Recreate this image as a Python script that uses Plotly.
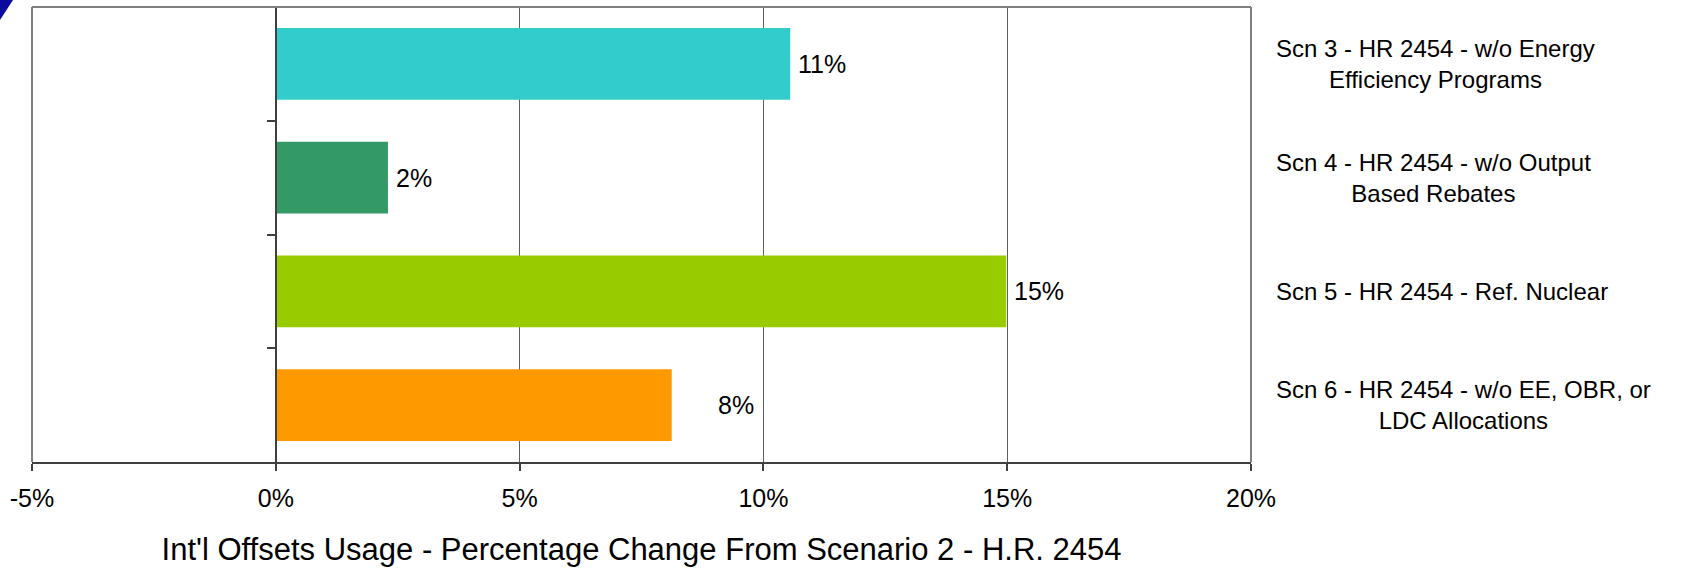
import plotly.graph_objects as go

# ---- data ----
categories = [
    "Scn 3 - HR 2454 - w/o Energy<br>Efficiency Programs",
    "Scn 4 - HR 2454 - w/o Output<br>Based Rebates",
    "Scn 5 - HR 2454 - Ref. Nuclear",
    "Scn 6 - HR 2454 - w/o EE, OBR, or<br>LDC Allocations",
]
values = [10.55, 2.30, 14.98, 8.12]
bar_colors = ["#33CCCC", "#339966", "#99CC00", "#FF9900"]
x_tickvals = [-5, 0, 5, 10, 15, 20]
x_ticktext = ["-5%", "0%", "5%", "10%", "15%", "20%"]
x_title = "Int'l Offsets Usage - Percentage Change From Scenario 2 - H.R. 2454"

# ---- layout constants ----
W, H = 1700, 570
ML, MR, MT, MB = 32, 449, 7, 108
PW, PH = W - ML - MR, H - MT - MB
FONT = "Liberation Sans, Arial, sans-serif"
label_shift = [6, 6, 6, 44]

fig = go.Figure()
fig.add_trace(go.Bar(
    y=categories, x=values, orientation="h",
    marker=dict(color=bar_colors, line=dict(width=0)),
    showlegend=False, hoverinfo="x+y",
))

annotations = []
for c, v, s in zip(categories, values, label_shift):
    annotations.append(dict(
        x=v, y=c, xref="x", yref="y", text=f"{v:.0f}%", showarrow=False,
        xanchor="left", yanchor="middle", xshift=s,
        font=dict(family=FONT, size=25, color="black"),
    ))
    annotations.append(dict(
        x=(1274 - ML) / PW, y=c, xref="paper", yref="y", text=c, showarrow=False,
        xanchor="left", yanchor="middle", align="center",
        font=dict(family=FONT, size=24, color="black"),
    ))

def px_x(p):
    return (p - ML) / PW

def px_y(p):
    return (H - MB - p) / PH

shapes = [
    # plot border (top, left, right)
    dict(type="line", xref="paper", yref="paper", x0=0, x1=1, y0=1, y1=1,
         line=dict(color="#808080", width=2)),
    dict(type="line", xref="paper", yref="paper", x0=0, x1=0, y0=0, y1=1,
         line=dict(color="#808080", width=2)),
    dict(type="line", xref="paper", yref="paper", x0=1, x1=1, y0=0, y1=1,
         line=dict(color="#808080", width=2)),
    # decorative corner triangle
    dict(type="path", xref="paper", yref="paper",
         path=f"M {px_x(0)},{px_y(0)} L {px_x(13)},{px_y(0)} L {px_x(0)},{px_y(20)} Z",
         fillcolor="#0A0A9E", line=dict(width=0)),
]

fig.update_layout(
    width=W, height=H,
    margin=dict(l=ML, r=MR, t=MT, b=MB, pad=0),
    paper_bgcolor="white", plot_bgcolor="white",
    font=dict(family=FONT, size=24, color="black"),
    bargap=0.37,
    annotations=annotations,
    shapes=shapes,
    xaxis=dict(
        range=[-5, 20], tickvals=x_tickvals, ticktext=x_ticktext,
        showgrid=True, gridcolor="#5F5F5F", gridwidth=1,
        zeroline=False,
        showline=True, linecolor="#404040", linewidth=2,
        ticks="outside", ticklen=7, tickcolor="#404040", tickwidth=1.5,
        ticklabelstandoff=6,
        tickfont=dict(family=FONT, size=25, color="black"),
        title=dict(text=x_title, font=dict(family=FONT, size=31, color="black"), standoff=27),
        fixedrange=True,
    ),
    yaxis=dict(
        categoryorder="array", categoryarray=categories, autorange="reversed",
        anchor="free", position=0.2,
        showline=True, linecolor="#404040", linewidth=2,
        ticks="outside", ticklen=8, tickcolor="#404040", tickwidth=1.5,
        tickson="boundaries",
        showticklabels=False, showgrid=False, zeroline=False,
        fixedrange=True,
    ),
)

fig.write_html(
    "out.html",
    config={"displayModeBar": False},
    post_script="document.body.style.margin='0';document.body.style.overflow='hidden';",
)
